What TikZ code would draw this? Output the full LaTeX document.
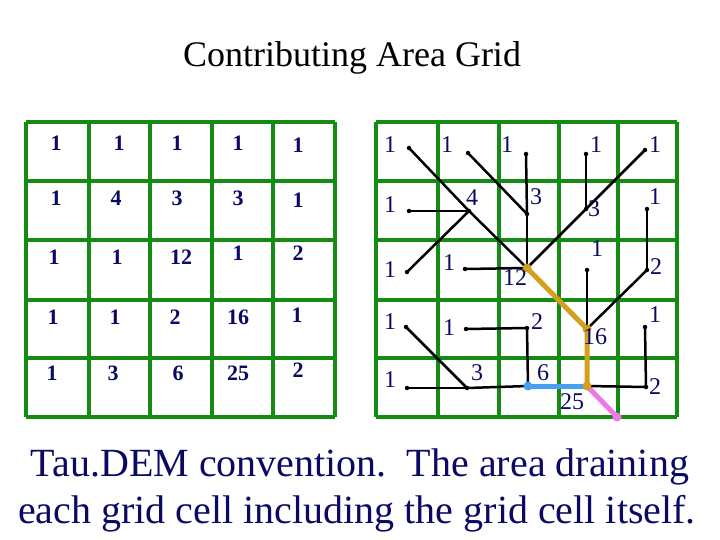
\documentclass[tikz,border=0pt]{standalone}
\usepackage{fontspec}
\setmainfont{Liberation Serif}
\begin{document}
\begin{tikzpicture}[x=1pt,y=-1pt,
 gridl/.style={draw={rgb,255:red,20;green,140;blue,20},line width=4pt},
 lnum/.style={font=\fontsize{22}{22}\selectfont\bfseries,text={rgb,255:red,10;green,10;blue,100}},
 rnum/.style={font=\fontsize{24}{24}\selectfont,text={rgb,255:red,10;green,10;blue,100}},
 pt/.style={circle,fill=black,inner sep=0pt,minimum size=4.5pt},
 flow/.style={line width=2.5pt,black},
 gold/.style={line width=5pt,draw={rgb,255:red,210;green,160;blue,30}},
 blue/.style={line width=5pt,draw={rgb,255:red,70;green,160;blue,240}},
 pink/.style={line width=5pt,draw={rgb,255:red,240;green,120;blue,230}}]
\useasboundingbox (0,0) rectangle (720,540);
\node[font=\fontsize{36}{36}\selectfont] (title) at (352,58) {Contributing Area Grid};
% grids
\foreach \x in {26,89,150,212,273,335} \draw[gridl] (\x,122) -- (\x,417);
\foreach \y in {122,181,240,300,358,417} \draw[gridl] (26,\y) -- (335,\y);
\foreach \x in {376,438,499,559,618,677} \draw[gridl] (\x,122) -- (\x,417);
\foreach \y in {122,181,240,300,358,417} \draw[gridl] (376,\y) -- (677,\y);
% left numbers
\foreach \t/\x/\y in {1/56/143,1/119/143,1/177/143,1/238/143,1/298/145,
 1/56/198,4/116/198,3/177/198,3/238/198,1/298/200,
 1/54/257,1/117/257,12/181/257,1/238/253,2/298/253,
 1/53/317,1/115/317,2/175/317,16/238/317,1/297/315,
 1/52/373,3/113/373,6/178/373,25/238/373,2/298/370}
 \node[lnum] at (\x,\y) {\t};
% points
\foreach \n/\x/\y in {a/409/148,b/468/153,c/526/154,d/586/154,e/645/150,
 f/409/211,g/469/211,h/527/214,i/586/209,j/647/209,
 k/407/272,l/465/269,m/527/268,n/587/270,o/647/270,
 p/406/327,q/466/329,r/527/328,s/587/329,t/645/327,
 u/407/388,v/467/388,w/528/386,y/587/386,z/646/387}
 \coordinate (\n) at (\x,\y);
\coordinate (out) at (617,417);
\draw[gold] (m) -- (s) -- (y);
\draw[blue] (w) -- (y);
\draw[pink] (y) -- (out);
\foreach \s/\e in {a/g,f/g,k/g,g/m,b/h,c/h,h/m,d/i,e/i,i/m,l/m,
 j/o,o/s,n/s,p/v,u/v,v/w,q/r,r/w,t/z,z/y}
 \draw[flow] (\s) -- (\e);
\foreach \n in {a,b,c,d,e,f,g,h,i,j,k,l,m,n,o,p,q,r,s,t,u,v,z}
 \node[pt] at (\n) {};
\node[circle,inner sep=0pt,minimum size=9pt,fill={rgb,255:red,70;green,160;blue,240}] at (w) {};
\node[circle,inner sep=0pt,minimum size=9pt,fill={rgb,255:red,210;green,160;blue,30}] at (y) {};
\node[circle,inner sep=0pt,minimum size=9pt,fill={rgb,255:red,210;green,160;blue,30}] at (s) {};
\node[circle,inner sep=0pt,minimum size=9pt,fill={rgb,255:red,210;green,160;blue,30}] at (m) {};
\node[circle,inner sep=0pt,minimum size=9pt,fill={rgb,255:red,240;green,120;blue,230}] at (out) {};
% right numbers
\foreach \t/\x/\y in {1/390/145,1/447/145,1/507/145,1/596/145,1/655/145,
 1/390/205,4/472/198,3/536/197,3/594/209,1/655/197,
 1/390/270,1/449/263,12/515/278,1/597/249,2/656/267,
 1/390/322,1/449/328,2/537/322,16/595/337,1/655/315,
 1/390/380,3/477/373,6/543/373,25/572/402,2/655/387}
 \node[rnum] at (\x,\y) {\t};
\node[font=\fontsize{40}{40}\selectfont,text={rgb,255:red,10;green,10;blue,100}] (c1) at (360,467) {Tau.DEM convention.\ \ The area draining};
\node[font=\fontsize{40}{40}\selectfont,text={rgb,255:red,10;green,10;blue,100}] (c2) at (357,514) {each grid cell including the grid cell itself.};
\end{tikzpicture}
\end{document}
